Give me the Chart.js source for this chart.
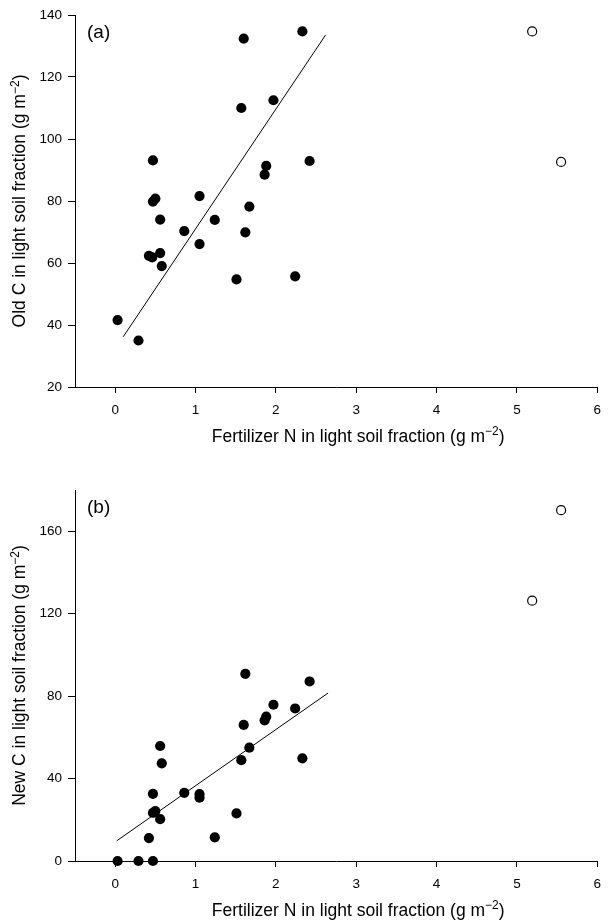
<!DOCTYPE html>
<html>
<head>
<meta charset="utf-8">
<script src="https://cdn.jsdelivr.net/npm/chart.js@4.4.1/dist/chart.umd.min.js"></script>
<style>
  html, body { margin: 0; padding: 0; background: #fff; }
  #wrap { position: relative; width: 610px; height: 921px; }
  canvas { position: absolute; left: 0; }
</style>
</head>
<body>
<div id="wrap">
  <canvas id="panelA" width="610" height="470" style="top:0px"></canvas>
  <canvas id="panelB" width="610" height="451" style="top:470px"></canvas>
</div>
<script>
// Panel (a): old C vs fertilizer N in the light soil fraction
const oldX = [0.03, 0.29, 0.42, 0.46, 0.47, 0.47, 0.50, 0.56, 0.56, 0.58, 0.86, 1.05, 1.05,
              1.24, 1.51, 1.57, 1.60, 1.62, 1.67, 1.86, 1.88, 1.97, 2.24, 2.33, 2.42];
const oldC = [41.6, 35.0, 62.3, 61.8, 93.1, 79.8, 80.8, 74.0, 63.2, 59.0, 70.3, 81.6, 66.1,
              73.9, 54.7, 110.0, 132.4, 69.9, 78.2, 88.5, 91.3, 112.5, 55.7, 134.7, 92.9];
const oldOutX = [5.19, 5.55];
const oldOutC = [134.7, 92.6];
const fitOldX = [0.10, 2.62];
const fitOldC = [36.2, 133.6];

// Panel (b): new C vs fertilizer N in the light soil fraction
const newX = [0.03, 0.29, 0.47, 0.42, 0.47, 0.50, 0.47, 0.56, 0.58, 0.56, 0.86, 1.05, 1.05,
              1.24, 1.51, 1.57, 1.60, 1.62, 1.67, 1.86, 1.88, 1.97, 2.24, 2.33, 2.42];
const newC = [0, 0, 0, 11.1, 23.4, 24.2, 32.6, 55.8, 47.4, 20.3, 33.1, 32.4, 30.7,
              11.5, 23.1, 48.9, 66.0, 90.8, 55.0, 68.2, 70.0, 75.8, 74.0, 49.8, 87.1];
const newOutX = [5.19, 5.55];
const newOutC = [126.3, 170.2];
const fitNewX = [0.02, 2.65];
const fitNewC = [9.8, 81.5];

// Tick values
const xTicks = [0, 1, 2, 3, 4, 5, 6];
const yTicksA = [20, 40, 60, 80, 100, 120, 140];
const yTicksB = [0, 40, 80, 120, 160];

// Titles: [text, superscript, tail]
const xTitle = ['Fertilizer N in light soil fraction (g m', '\u22122', ')'];
const yTitleA = ['Old C in light soil fraction (g m', '\u22122', ')'];
const yTitleB = ['New C in light soil fraction (g m', '\u22122', ')'];

const FAMILY = '"Liberation Sans", Arial, Helvetica, sans-serif';
const TITLE_SIZE = 17.5;
const SUP_SIZE = 12;

function pts(xs, ys) {
  return xs.map((x, i) => ({ x: x, y: ys[i] }));
}

// Draws "text + superscript + tail" centred on (cx, baseline)
function drawSupTitle(ctx, parts, cx, baseline) {
  const mainFont = TITLE_SIZE + 'px ' + FAMILY;
  const supFont = SUP_SIZE + 'px ' + FAMILY;
  ctx.font = mainFont;
  const w0 = ctx.measureText(parts[0]).width;
  const w2 = ctx.measureText(parts[2]).width;
  ctx.font = supFont;
  const w1 = ctx.measureText(parts[1]).width;
  let x = cx - (w0 + w1 + w2) / 2;
  ctx.textAlign = 'left';
  ctx.textBaseline = 'alphabetic';
  ctx.fillStyle = '#000';
  ctx.font = mainFont;
  ctx.fillText(parts[0], x, baseline);
  x += w0;
  ctx.font = supFont;
  ctx.fillText(parts[1], x, baseline - 6.5);
  x += w1;
  ctx.font = mainFont;
  ctx.fillText(parts[2], x, baseline);
}

const decorPlugin = {
  id: 'decor',
  afterDraw(chart, args, opts) {
    const ctx = chart.ctx;
    const area = chart.chartArea;
    const xs = chart.scales.x;
    ctx.save();
    // panel letter
    ctx.font = '19px ' + FAMILY;
    ctx.fillStyle = '#000';
    ctx.textAlign = 'left';
    ctx.textBaseline = 'middle';
    ctx.fillText(opts.letter, area.left + 12, area.top + 18);
    // x-axis title, centred over the 0..6 span
    const cx = (xs.getPixelForValue(0) + xs.getPixelForValue(6)) / 2 + 2;
    drawSupTitle(ctx, xTitle, cx, area.bottom + 54.5);
    // y-axis title, rotated
    ctx.translate(25, (area.top + area.bottom) / 2);
    ctx.rotate(-Math.PI / 2);
    drawSupTitle(ctx, opts.yTitle, 0, 0);
    ctx.restore();
  }
};

function makePanel(id, cfg) {
  const tickFont = { family: FAMILY, size: 13.5 };
  return new Chart(document.getElementById(id), {
    type: 'scatter',
    data: {
      datasets: [
        {
          type: 'line',
          data: pts(cfg.fitX, cfg.fitY),
          borderColor: '#000',
          borderWidth: 1,
          pointRadius: 0,
          fill: false,
          tension: 0,
          order: 3
        },
        {
          data: pts(cfg.x, cfg.y),
          pointRadius: 5.1,
          pointBackgroundColor: '#000',
          pointBorderWidth: 0,
          clip: false,
          order: 1
        },
        {
          data: pts(cfg.outX, cfg.outY),
          pointRadius: 4.5,
          pointBackgroundColor: '#fff',
          pointBorderColor: '#000',
          pointBorderWidth: 1.2,
          clip: false,
          order: 2
        }
      ]
    },
    options: {
      responsive: false,
      animation: false,
      devicePixelRatio: 1,
      layout: { padding: { left: 0, right: 4, top: cfg.padTop, bottom: 0 } },
      plugins: {
        legend: { display: false },
        tooltip: { enabled: false },
        decor: { letter: cfg.letter, yTitle: cfg.yTitle }
      },
      scales: {
        x: {
          type: 'linear',
          min: -0.5,
          max: 6,
          afterBuildTicks: s => { s.ticks = xTicks.map(v => ({ value: v })); },
          afterFit: s => { s.height = cfg.xAxisH; },
          ticks: { font: tickFont, color: '#000', padding: 9, maxRotation: 0, autoSkip: false },
          grid: { drawOnChartArea: false, drawTicks: true, tickLength: 6, color: '#000', lineWidth: 1 },
          border: { display: true, color: '#000', width: 1 }
        },
        y: {
          type: 'linear',
          min: cfg.yMin,
          max: cfg.yMax,
          afterBuildTicks: s => { s.ticks = cfg.yTicks.map(v => ({ value: v })); },
          afterFit: s => { s.width = 75; },
          ticks: { font: tickFont, color: '#000', padding: 6, autoSkip: false },
          grid: { drawOnChartArea: false, drawTicks: true, tickLength: 7, color: '#000', lineWidth: 1 },
          border: { display: true, color: '#000', width: 1 }
        }
      }
    },
    plugins: [decorPlugin]
  });
}

makePanel('panelA', {
  letter: '(a)', yTitle: yTitleA,
  x: oldX, y: oldC, outX: oldOutX, outY: oldOutC, fitX: fitOldX, fitY: fitOldC,
  yMin: 20, yMax: 140, yTicks: yTicksA, padTop: 15, xAxisH: 83
});

makePanel('panelB', {
  letter: '(b)', yTitle: yTitleB,
  x: newX, y: newC, outX: newOutX, outY: newOutC, fitX: fitNewX, fitY: fitNewC,
  yMin: 0, yMax: 180, yTicks: yTicksB, padTop: 20, xAxisH: 60
});
</script>
</body>
</html>
